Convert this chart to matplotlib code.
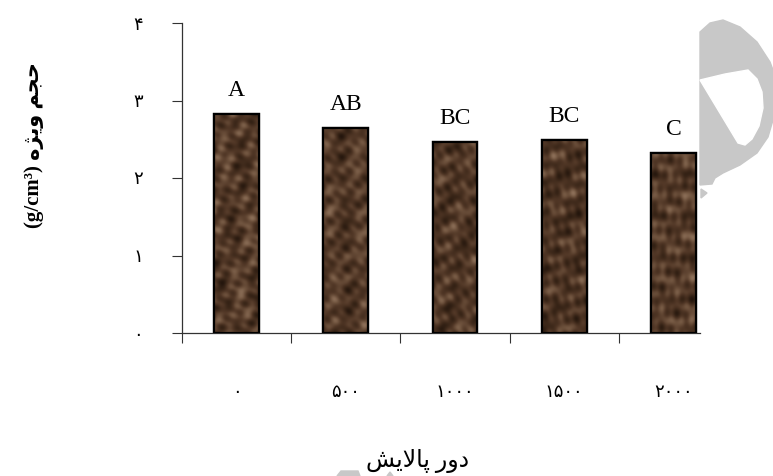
import numpy as np
import matplotlib
matplotlib.use("Agg")
from matplotlib import pyplot as plt
from matplotlib.patches import Polygon
from matplotlib.colors import LinearSegmentedColormap

# data
refining = ["۰", "۵۰۰", "۱۰۰۰", "۱۵۰۰", "۲۰۰۰"]          # دور پالایش
bulk = [2.82, 2.64, 2.46, 2.49, 2.32]                    # حجم ویژه (g/cm3)
groups = ["A", "AB", "BC", "BC", "C"]
yticks = [0, 1, 2, 3, 4]
ytick_labels = ["۰", "۱", "۲", "۳", "۴"]

# persian text pre-shaped (presentation forms, visual order)
xlabel = "\uFEB6\uFBFE\uFEFB\uFE8E\uFB58 \uFEAD\uFEED\uFEA9"
ylabel = "(g/cm³) \uFEE9\uFB8B\uFBFE\uFEED \uFEE2\uFEA0\uFEA3"

fam = ["Liberation Serif", "DejaVu Sans"]
plt.rcParams['font.family'] = fam

W, H = 773, 476
fig = plt.figure(figsize=(W / 100, H / 100), dpi=100)
ax = fig.add_axes([182 / W, 1 - 333 / H, (700 - 182) / W, (333 - 23) / H])

x = np.arange(len(bulk))
bars = ax.bar(x, bulk, width=0.41, color="#4a3324", edgecolor="black", linewidth=1.6, zorder=2)

# mottled brown texture for the bar fill (sum of plane waves, pixel units)
browns = LinearSegmentedColormap.from_list("br", ["#24160d", "#3a2618", "#513726", "#6e523d", "#8d7059"])
waves = [(14, 20, 0.0, 1.0), (22, 75, 1.1, 0.9), (11, 130, 2.3, 0.7), (30, 160, 0.4, 0.8),
         (17, 45, 3.0, 0.6), (9, 100, 4.1, 0.5), (40, 10, 5.2, 0.7)]
for i, b in enumerate(bars):
    hpx = b.get_height() * 77.5
    Y, X = np.mgrid[0:hpx:400j, 0:46:80j]
    t = np.zeros_like(X)
    for lam, ang, ph, amp in waves:
        a = np.deg2rad(ang + 17 * i)
        t += amp * np.sin(2 * np.pi / lam * (X * np.cos(a) + Y * np.sin(a)) + ph + 1.9 * i)
    t = (t - t.min()) / (t.max() - t.min())
    im = ax.imshow(t, cmap=browns, aspect="auto", zorder=2.1, interpolation="bilinear",
                   extent=[b.get_x(), b.get_x() + b.get_width(), 0, b.get_height()])
    im.set_clip_path(b)
    ax.bar(b.get_x() + b.get_width() / 2, b.get_height(), width=b.get_width(), fill=False,
           edgecolor="black", linewidth=1.6, zorder=3)

for i, (v, g) in enumerate(zip(bulk, groups)):
    ax.annotate(g, (i, v), xytext=(0, 13), textcoords="offset points", ha="center",
                va="baseline", fontsize=17, family=fam)

ax.set_xlim(-0.5, 4.243)
ax.set_ylim(0, 4)

for s in ["top", "right"]:
    ax.spines[s].set_visible(False)
for s in ["left", "bottom"]:
    ax.spines[s].set_linewidth(0.9)
    ax.spines[s].set_color("#333333")

ax.set_yticks(yticks)
ax.set_yticklabels(ytick_labels, fontsize=13, family=fam)
ax.tick_params(axis="y", direction="out", length=7.2, width=0.8, color="#333333", pad=21)

ax.set_xticks(x)
ax.set_xticklabels(refining, fontsize=13, family=fam)
ax.set_xticks(np.arange(-0.5, 4, 1), minor=True)
ax.tick_params(axis="x", which="major", length=0, pad=37)
ax.tick_params(axis="x", which="minor", direction="out", length=7.2, width=0.8, color="#333333")

fig.text(418 / W, 1 - 461 / H, xlabel, ha="center", va="center", fontsize=17, family=fam)
fig.text(34 / W, 1 - 145 / H, ylabel, ha="center", va="center", rotation=90,
         fontsize=15, fontweight="bold", family=fam)


# light grey watermark pieces
def px(pts):
    return [(a / W, 1 - b / H) for a, b in pts]


outer = [(700, 32), (710, 23), (723, 20), (740, 27), (757, 42), (770, 62), (773, 70),
         (773, 120), (768, 137), (757, 153), (740, 165), (723, 173), (715, 178),
         (712, 184), (700, 185)]
inner = [(700, 80), (738, 143), (745, 145), (752, 139), (759, 126), (763, 108),
         (762, 92), (757, 79), (748, 70), (725, 74)]
tri = [(701, 189), (707, 193), (701, 198)]
bits = [[(337, 476), (341, 471), (358, 471), (360, 476)], [(387, 476), (390, 472), (393, 476)]]
grey = "#c8c8c8"
fig.patches.append(Polygon(px(outer), closed=True, transform=fig.transFigure, color=grey, zorder=0))
fig.patches.append(Polygon(px(inner), closed=True, transform=fig.transFigure, color="white", zorder=0.5))
fig.patches.append(Polygon(px(tri), closed=True, transform=fig.transFigure, color=grey, zorder=0))
for b in bits:
    fig.patches.append(Polygon(px(b), closed=True, transform=fig.transFigure, color=grey, zorder=0))

fig.savefig("out.png", dpi=100)
